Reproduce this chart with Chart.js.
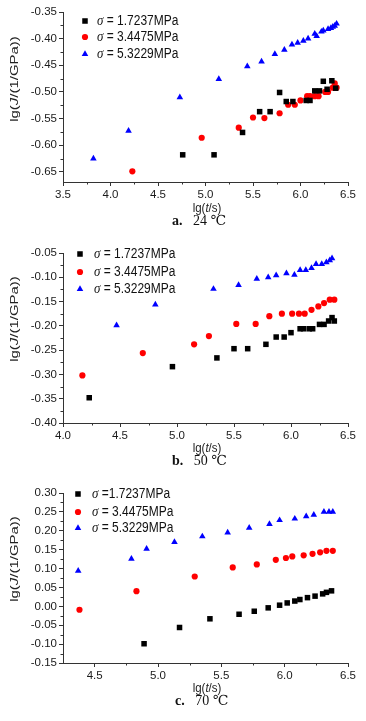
<!DOCTYPE html>
<html>
<head>
<meta charset="utf-8">
<script src="https://cdn.jsdelivr.net/npm/chart.js@4.4.1/dist/chart.umd.min.js"></script>
<style>
  html, body { margin: 0; padding: 0; background: #fff; }
  #wrap { position: relative; width: 366px; height: 721px; overflow: hidden; }
  .panel { position: absolute; left: 0; width: 366px; height: 240px; }
  .caption {
    position: absolute; left: 172px; font-family: "Liberation Serif", "DejaVu Serif", serif;
    font-size: 14px; color: #111; white-space: pre; line-height: 15px;
  }
  .caption b { font-weight: bold; }
</style>
</head>
<body>
<div id="wrap">
  <div class="panel" style="top:0"><canvas id="cA"></canvas></div>
  <div class="panel" style="top:240px"><canvas id="cB"></canvas></div>
  <div class="panel" style="top:480px"><canvas id="cC"></canvas></div>
  <div class="caption" style="top:213px"><b>a.</b>   24 ℃</div>
  <div class="caption" style="top:453px"><b>b.</b>   50 ℃</div>
  <div class="caption" style="top:693px;left:175px"><b>c.</b>   70 ℃</div>
</div>
<script>
// stress levels of the three series
const stressA = ['= 1.7237MPa', '= 3.4475MPa', '= 5.3229MPa'];
const stressC = ['=1.7237MPa', '= 3.4475MPa', '= 5.3229MPa'];

// a. 24 C
const aX1 = [4.76, 5.09, 5.39, 5.57, 5.68, 5.78, 5.85, 5.92, 6.06, 6.10, 6.15, 6.20, 6.24, 6.28, 6.33, 6.37];
const aY1 = [-0.618, -0.618, -0.576, -0.537, -0.537, -0.501, -0.518, -0.518, -0.516, -0.516, -0.498, -0.498, -0.480, -0.495, -0.479, -0.493];
const aX2 = [4.23, 4.96, 5.35, 5.50, 5.62, 5.78, 5.87, 5.94, 6.00, 6.07, 6.10, 6.15, 6.19, 6.26, 6.29, 6.34, 6.36, 6.38];
const aY2 = [-0.649, -0.586, -0.567, -0.548, -0.549, -0.540, -0.524, -0.524, -0.516, -0.508, -0.508, -0.508, -0.508, -0.500, -0.500, -0.492, -0.484, -0.492];
const aX3 = [3.82, 4.19, 4.73, 5.14, 5.44, 5.59, 5.73, 5.83, 5.91, 5.97, 6.03, 6.08, 6.15, 6.17, 6.22, 6.24, 6.29, 6.32, 6.34, 6.36, 6.38];
const aY3 = [-0.625, -0.573, -0.510, -0.476, -0.452, -0.443, -0.429, -0.421, -0.411, -0.408, -0.404, -0.400, -0.391, -0.395, -0.387, -0.385, -0.382, -0.380, -0.378, -0.376, -0.372];

// b. 50 C
const bX1 = [4.23, 4.96, 5.35, 5.50, 5.62, 5.78, 5.87, 5.94, 6.00, 6.08, 6.11, 6.16, 6.19, 6.25, 6.29, 6.33, 6.36, 6.38];
const bY1 = [-0.348, -0.284, -0.266, -0.247, -0.247, -0.238, -0.223, -0.223, -0.214, -0.206, -0.206, -0.206, -0.206, -0.197, -0.197, -0.190, -0.183, -0.190];
const bX2 = [4.17, 4.70, 5.15, 5.28, 5.52, 5.69, 5.81, 5.92, 6.01, 6.07, 6.12, 6.18, 6.24, 6.29, 6.34, 6.38];
const bY2 = [-0.302, -0.256, -0.238, -0.221, -0.196, -0.196, -0.180, -0.175, -0.175, -0.175, -0.175, -0.167, -0.160, -0.153, -0.146, -0.146];
const bX3 = [4.47, 4.81, 5.32, 5.54, 5.70, 5.80, 5.87, 5.96, 6.03, 6.08, 6.13, 6.18, 6.22, 6.27, 6.31, 6.34, 6.36];
const bY3 = [-0.199, -0.156, -0.124, -0.116, -0.103, -0.100, -0.096, -0.092, -0.095, -0.085, -0.085, -0.081, -0.073, -0.073, -0.069, -0.065, -0.061];

// c. 70 C
const cX1 = [4.89, 5.17, 5.41, 5.64, 5.76, 5.87, 5.96, 6.02, 6.08, 6.12, 6.18, 6.24, 6.30, 6.33, 6.37];
const cY1 = [-0.099, -0.056, -0.033, -0.021, -0.013, -0.004, 0.003, 0.009, 0.014, 0.018, 0.023, 0.027, 0.033, 0.037, 0.041];
const cX2 = [4.38, 4.83, 5.29, 5.59, 5.78, 5.93, 6.01, 6.06, 6.15, 6.22, 6.28, 6.33, 6.38];
const cY2 = [-0.009, 0.040, 0.079, 0.103, 0.111, 0.123, 0.128, 0.132, 0.135, 0.139, 0.143, 0.147, 0.147];
const cX3 = [4.37, 4.79, 4.91, 5.13, 5.35, 5.55, 5.72, 5.88, 5.96, 6.08, 6.17, 6.23, 6.31, 6.35, 6.38];
const cY3 = [0.094, 0.126, 0.152, 0.170, 0.185, 0.195, 0.208, 0.218, 0.228, 0.232, 0.238, 0.242, 0.250, 0.250, 0.250];

// tick labels
const xTicksA = [3.5, 4.0, 4.5, 5.0, 5.5, 6.0, 6.5];
const yTicksA = [-0.65, -0.60, -0.55, -0.50, -0.45, -0.40, -0.35];
const xTicksB = [4.0, 4.5, 5.0, 5.5, 6.0, 6.5];
const yTicksB = [-0.40, -0.35, -0.30, -0.25, -0.20, -0.15, -0.10, -0.05];
const xTicksC = [4.5, 5.0, 5.5, 6.0, 6.5];
const yTicksC = [-0.15, -0.10, -0.05, 0.00, 0.05, 0.10, 0.15, 0.20, 0.25, 0.30];

const SANS = '"Liberation Sans", Arial, sans-serif';
const styles = [
    { color: '#000000', shape: 'rect', r: 3.9 },
    { color: '#ff0000', shape: 'circle', r: 3.1 },
    { color: '#0000ff', shape: 'triangle', r: 3.8 }
];

const pts = (xs, ys) => xs.map((x, i) => ({ x: x, y: ys[i] }));

function drawMarker(ctx, s, x, y) {
    ctx.save();
    ctx.fillStyle = s.color;
    ctx.beginPath();
    if (s.shape === 'rect') {
        const h = s.r * Math.SQRT1_2;
        ctx.rect(x - h, y - h, 2 * h, 2 * h);
    } else if (s.shape === 'circle') {
        ctx.arc(x, y, s.r, 0, Math.PI * 2);
    } else {
        ctx.moveTo(x, y - s.r);
        ctx.lineTo(x + s.r * 0.866, y + s.r * 0.5);
        ctx.lineTo(x - s.r * 0.866, y + s.r * 0.5);
        ctx.closePath();
    }
    ctx.fill();
    ctx.restore();
}

// text with mixed fonts; sx/sy stretch the glyphs like the scanned figure
function drawRich(ctx, parts, x, y, center, sx, sy) {
    let w = 0;
    parts.forEach(p => { ctx.font = p.f; w += ctx.measureText(p.t).width; });
    ctx.save();
    ctx.translate(x, y);
    ctx.scale(sx || 1, sy || 1);
    let cx = center ? -w / 2 : 0;
    parts.forEach(p => {
        ctx.font = p.f;
        ctx.fillText(p.t, cx, 0);
        cx += ctx.measureText(p.t).width;
    });
    ctx.restore();
}

const decor = {
    id: 'decor',
    afterDraw(chart, args, o) {
        const ctx = chart.ctx;
        const xs = chart.scales.x, ys = chart.scales.y;
        ctx.save();
        // minor ticks
        ctx.strokeStyle = '#333';
        ctx.lineWidth = 1;
        ctx.beginPath();
        for (let i = 0; i < o.yTicks.length - 1; i++) {
            const py = Math.round(ys.getPixelForValue((o.yTicks[i] + o.yTicks[i + 1]) / 2)) + 0.5;
            ctx.moveTo(xs.left, py); ctx.lineTo(xs.left - 2.5, py);
        }
        for (let i = 0; i < o.xTicks.length - 1; i++) {
            const px = Math.round(xs.getPixelForValue((o.xTicks[i] + o.xTicks[i + 1]) / 2)) + 0.5;
            ctx.moveTo(px, ys.bottom); ctx.lineTo(px, ys.bottom + 2.5);
        }
        ctx.stroke();

        // legend
        ctx.fillStyle = '#111';
        ctx.textBaseline = 'middle';
        o.labels.forEach((lab, i) => {
            const y = o.legY[i];
            drawMarker(ctx, styles[i], o.legMarkX, y);
            drawRich(ctx, [
                { t: 'σ', f: 'italic 13px "Liberation Serif", serif' },
                { t: ' ' + lab, f: '12px ' + SANS }
            ], o.legTextX, y + 0.5, false, 1, 1.15);
        });

        // axis titles
        ctx.fillStyle = '#222';
        drawRich(ctx, [
            { t: 'lg(', f: '11.5px ' + SANS },
            { t: 't', f: 'italic 11.5px ' + SANS },
            { t: '/s)', f: '11.5px ' + SANS }
        ], 207, 208, true, 1, 1.15);
        ctx.translate(15, 79);
        ctx.rotate(-Math.PI / 2);
        drawRich(ctx, [
            { t: 'lg(', f: '11.5px ' + SANS },
            { t: 'J', f: 'italic 11.5px ' + SANS },
            { t: '/(1/GPa))', f: '11.5px ' + SANS }
        ], 0, 0, true, 1.3, 1);
        ctx.restore();
    }
};

function makePanel(id, series, xr, yr, xTicks, yTicks, top, bottom, extra) {
    const datasets = series.map((s, i) => ({
        data: s,
        pointStyle: styles[i].shape,
        pointRadius: styles[i].r,
        pointHoverRadius: styles[i].r,
        pointBackgroundColor: styles[i].color,
        pointBorderColor: styles[i].color,
        pointBorderWidth: 0
    }));
    const axisCommon = (ticks, dec) => ({
        type: 'linear',
        border: { display: true, color: '#333', width: 1 },
        grid: { display: true, drawOnChartArea: false, tickLength: 4, tickColor: '#333' },
        afterBuildTicks: sc => { sc.ticks = ticks.map(v => ({ value: v })); },
        ticks: {
            color: '#1a1a1a',
            padding: 2,
            font: { family: SANS, size: 11.5 },
            autoSkip: false,
            maxRotation: 0,
            callback: v => v.toFixed(dec)
        }
    });
    const xAxis = Object.assign(axisCommon(xTicks, 1), { min: xr[0], max: xr[1], position: 'bottom' });
    xAxis.afterFit = sc => { sc.height = 240 - bottom; };
    const yAxis = Object.assign(axisCommon(yTicks, 2), { min: yr[0], max: yr[1] });
    yAxis.afterFit = sc => { sc.width = 63; };

    return new Chart(document.getElementById(id), {
        type: 'scatter',
        data: { datasets: datasets },
        options: {
            responsive: true,
            maintainAspectRatio: false,
            animation: false,
            layout: { padding: { left: 0, right: 18, top: top, bottom: 0 } },
            plugins: {
                legend: { display: false },
                tooltip: { enabled: false },
                decor: Object.assign({ xTicks: xTicks, yTicks: yTicks }, extra)
            },
            scales: { x: xAxis, y: yAxis }
        },
        plugins: [decor]
    });
}

makePanel('cA', [pts(aX1, aY1), pts(aX2, aY2), pts(aX3, aY3)],
    [3.5, 6.5], [-0.669, -0.35], xTicksA, yTicksA, 12, 182,
    { labels: stressA, legMarkX: 85, legTextX: 97, legY: [21, 37, 54] });

makePanel('cB', [pts(bX1, bY1), pts(bX2, bY2), pts(bX3, bY3)],
    [4.0, 6.5], [-0.40, -0.05], xTicksB, yTicksB, 13, 183,
    { labels: stressA, legMarkX: 80, legTextX: 94, legY: [14, 32, 49] });

makePanel('cC', [pts(cX1, cY1), pts(cX2, cY2), pts(cX3, cY3)],
    [4.25, 6.5], [-0.15, 0.30], xTicksC, yTicksC, 13, 183,
    { labels: stressC, legMarkX: 78, legTextX: 92, legY: [14, 32, 48] });
</script>
</body>
</html>
